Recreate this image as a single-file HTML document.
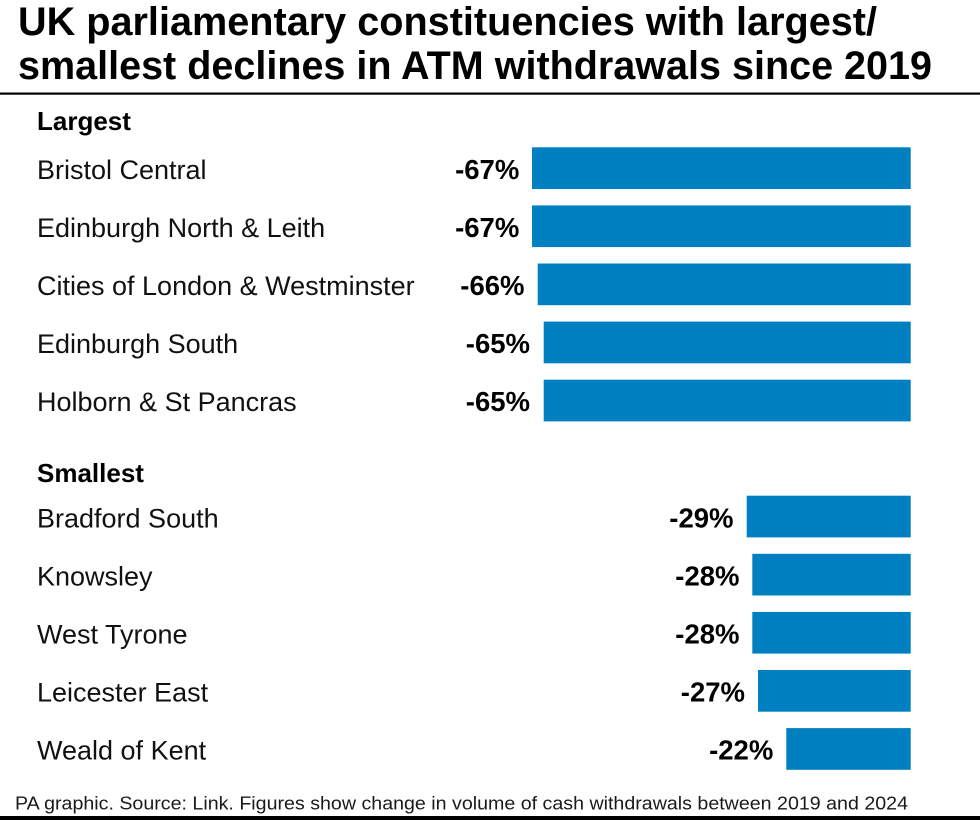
<!DOCTYPE html>
<html><head><meta charset="utf-8"><style>
html,body{margin:0;padding:0;background:#fff;}
svg{display:block;}
text{font-family:"Liberation Sans",Arial,sans-serif;}
</style></head><body>
<svg width="980" height="820" viewBox="0 0 980 820" xmlns="http://www.w3.org/2000/svg">
<rect width="980" height="820" fill="#fff"/>
<text x="18" y="35" font-size="39.5" font-weight="bold" fill="#000" textLength="859" lengthAdjust="spacingAndGlyphs">UK parliamentary constituencies with largest/</text>
<text x="18" y="79" font-size="39.5" font-weight="bold" fill="#000" textLength="914" lengthAdjust="spacingAndGlyphs">smallest declines in ATM withdrawals since 2019</text>
<rect x="0" y="92.5" width="980" height="2.2" fill="#000"/>

<text x="37" y="130" font-size="26" font-weight="bold" fill="#000">Largest</text>
<g font-size="27" fill="#111">
<text x="37" y="179">Bristol Central</text>
<text x="37" y="237">Edinburgh North &amp; Leith</text>
<text x="37" y="295">Cities of London &amp; Westminster</text>
<text x="37" y="353">Edinburgh South</text>
<text x="37" y="411">Holborn &amp; St Pancras</text>
</g>
<g fill="#0080c0">
<rect x="532" y="147.3" width="378.7" height="41.7"/>
<rect x="532" y="205.4" width="378.7" height="41.7"/>
<rect x="537.7" y="263.5" width="373" height="41.7"/>
<rect x="543.7" y="321.6" width="367" height="41.7"/>
<rect x="543.7" y="379.7" width="367" height="41.7"/>
</g>
<g font-size="27.5" font-weight="bold" fill="#000" text-anchor="end">
<text x="519.3" y="179">-67%</text>
<text x="519.3" y="237">-67%</text>
<text x="524.5" y="295">-66%</text>
<text x="530" y="353">-65%</text>
<text x="530" y="411">-65%</text>
</g>

<text x="37" y="482" font-size="26" font-weight="bold" fill="#000">Smallest</text>
<g font-size="27" fill="#111">
<text x="37" y="527.3">Bradford South</text>
<text x="37" y="585.4">Knowsley</text>
<text x="37" y="643.5">West Tyrone</text>
<text x="37" y="701.6">Leicester East</text>
<text x="37" y="759.7">Weald of Kent</text>
</g>
<g fill="#0080c0">
<rect x="746.7" y="495.7" width="164" height="41.7"/>
<rect x="752.3" y="553.8" width="158.4" height="41.7"/>
<rect x="752.3" y="611.9" width="158.4" height="41.7"/>
<rect x="758" y="670" width="152.7" height="41.7"/>
<rect x="786.3" y="728.1" width="124.4" height="41.7"/>
</g>
<g font-size="27.5" font-weight="bold" fill="#000" text-anchor="end">
<text x="733.5" y="527.3">-29%</text>
<text x="739.5" y="585.4">-28%</text>
<text x="739.5" y="643.5">-28%</text>
<text x="745" y="701.6">-27%</text>
<text x="773.3" y="759.7">-22%</text>
</g>

<text x="15" y="809.3" font-size="18.5" fill="#1a1a1a" textLength="893" lengthAdjust="spacingAndGlyphs">PA graphic. Source: Link. Figures show change in volume of cash withdrawals between 2019 and 2024</text>
<rect x="0" y="816" width="980" height="4" fill="#000"/>
</svg>
</body></html>
